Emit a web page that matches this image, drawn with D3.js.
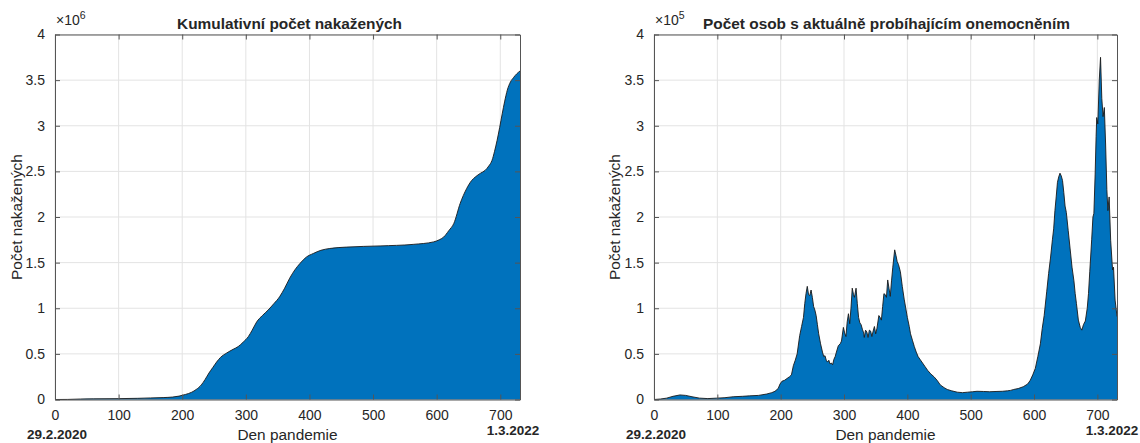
<!DOCTYPE html>
<html>
<head>
<meta charset="utf-8">
<script src="https://cdn.jsdelivr.net/npm/d3@7"></script>
<style>
  html, body { margin: 0; padding: 0; background: #fff; }
  svg { display: block; }
  text { font-family: "Liberation Sans", Arial, Helvetica, sans-serif; fill: #262626; }
</style>
</head>
<body>
<svg id="chart" width="1140" height="443"></svg>
<script>
// ---------------- DATA ----------------
// Left panel: cumulative infected (in units of 10^6)
const cumDays = [0, 20, 40, 60, 100, 130, 150, 170, 185, 195, 205, 215, 222, 230, 236, 242, 248, 254, 260, 270, 280, 288, 296, 304, 310, 317, 326, 335, 344, 353, 361, 369, 377, 385, 395, 406, 418, 432, 458, 511, 563, 595, 604, 611, 619, 627, 637, 647, 655, 661, 669, 676, 682, 687, 691, 695, 699, 703, 707, 711, 716, 721, 726, 731];
const cumValues = [0, 0.001, 0.005, 0.0075, 0.0095, 0.013, 0.017, 0.021, 0.027, 0.037, 0.055, 0.08, 0.11, 0.16, 0.22, 0.29, 0.35, 0.41, 0.46, 0.51, 0.55, 0.58, 0.63, 0.69, 0.76, 0.85, 0.92, 0.98, 1.05, 1.125, 1.22, 1.33, 1.42, 1.49, 1.56, 1.60, 1.635, 1.655, 1.67, 1.683, 1.70, 1.727, 1.75, 1.78, 1.85, 1.93, 2.15, 2.31, 2.40, 2.44, 2.48, 2.51, 2.56, 2.62, 2.72, 2.84, 2.98, 3.13, 3.27, 3.39, 3.48, 3.53, 3.57, 3.60];

// Right panel: currently active cases (in units of 10^5)
const actDays = [0, 10, 20, 30, 41, 50, 60, 72, 85, 99, 112, 125, 140, 151, 165, 178, 186, 191, 196, 199, 202, 206, 210, 214, 217, 220, 223, 226, 230, 233, 236, 238, 240, 242, 244, 246, 248, 250, 252, 254, 256, 258, 260, 263, 266, 268, 270, 272, 274, 276, 278, 280, 282, 284, 286, 288, 291, 294, 296, 299, 301, 303, 305, 307, 309, 311, 313, 315, 316.5, 319, 321, 323, 325, 327, 329, 331, 332, 334, 336, 338, 340, 342, 344, 346, 348, 350, 352, 355, 357, 359, 361, 363, 365, 367, 369, 371, 373, 375, 377, 380, 382, 384, 386, 389, 392, 395, 398, 400, 403, 405, 408, 411, 414, 417, 420, 424, 428, 432, 437, 442, 447, 452, 458, 463, 470, 479, 487, 495, 503, 510, 520, 530, 540, 550, 558, 563, 568, 575, 583, 590, 594, 598, 602, 606, 610, 613, 616, 620, 623, 626, 629, 631, 633, 635, 637, 639, 641, 643, 645, 647, 649, 651, 654, 657, 660, 663, 665, 667, 670, 673, 675.5, 678, 681, 684, 686, 688, 691, 693, 694.5, 696.5, 698, 699, 700.7, 703, 705, 707, 709, 711, 713, 715, 716.6, 718.6, 721, 724, 725.5, 728, 731];
const actValues = [0, 0.005, 0.015, 0.035, 0.05, 0.045, 0.03, 0.015, 0.01, 0.015, 0.02, 0.03, 0.035, 0.04, 0.045, 0.06, 0.075, 0.09, 0.12, 0.17, 0.20, 0.21, 0.23, 0.25, 0.27, 0.37, 0.43, 0.50, 0.70, 0.80, 0.90, 1.05, 1.16, 1.24, 1.15, 1.14, 1.20, 1.12, 1.02, 0.98, 0.92, 0.82, 0.72, 0.61, 0.52, 0.47, 0.48, 0.43, 0.41, 0.43, 0.39, 0.40, 0.38, 0.44, 0.47, 0.52, 0.59, 0.61, 0.64, 0.79, 0.73, 0.69, 0.85, 0.94, 0.83, 1.00, 1.22, 1.15, 1.12, 1.22, 1.05, 0.90, 0.84, 0.82, 0.77, 0.73, 0.68, 0.76, 0.74, 0.68, 0.76, 0.75, 0.69, 0.75, 0.80, 0.72, 0.78, 0.92, 0.90, 0.87, 1.02, 1.16, 1.15, 1.12, 1.31, 1.22, 1.13, 1.30, 1.45, 1.64, 1.58, 1.51, 1.48, 1.40, 1.24, 1.10, 0.98, 0.90, 0.80, 0.72, 0.65, 0.58, 0.52, 0.47, 0.44, 0.40, 0.36, 0.32, 0.28, 0.25, 0.21, 0.16, 0.13, 0.11, 0.095, 0.08, 0.075, 0.08, 0.085, 0.09, 0.088, 0.085, 0.088, 0.09, 0.095, 0.10, 0.11, 0.12, 0.14, 0.17, 0.21, 0.27, 0.34, 0.47, 0.61, 0.78, 0.92, 1.18, 1.38, 1.55, 1.75, 1.87, 2.07, 2.22, 2.38, 2.44, 2.48, 2.45, 2.40, 2.27, 2.12, 2.05, 1.85, 1.65, 1.45, 1.30, 1.16, 1.05, 0.87, 0.79, 0.76, 0.82, 0.86, 1.00, 1.16, 1.40, 1.75, 2.00, 2.04, 2.47, 2.88, 3.09, 3.02, 3.50, 3.75, 3.30, 3.10, 3.20, 2.80, 2.30, 2.07, 2.22, 1.745, 1.42, 1.45, 1.09, 0.91];

// Axes
const xTicks = [0, 100, 200, 300, 400, 500, 600, 700];
const yTicks = [0, 0.5, 1, 1.5, 2, 2.5, 3, 3.5, 4];
const yTickLabels = ["0", "0.5", "1", "1.5", "2", "2.5", "3", "3.5", "4"];
const dayDomain = [0, 731];
const yDomain = [0, 4];

const titles = ["Kumulativní počet nakažených", "Počet osob s aktuálně probíhajícím onemocněním"];
const exponents = ["6", "5"];
const xLabel = "Den pandemie";
const yLabel = "Počet nakažených";
const startDate = "29.2.2020";
const endDate = "1.3.2022";

// ---------------- DRAW ----------------
const svg = d3.select("#chart");
svg.append("rect").attr("width", 1140).attr("height", 443).attr("fill", "#fff");

function panel(opts) {
  const { left, right, top, bottom, days, values, curve, title, exp, ylabX, startX, startY, endX, endY } = opts;
  const x = d3.scaleLinear().domain(dayDomain).range([left, right]);
  const y = d3.scaleLinear().domain(yDomain).range([bottom, top]);
  const g = svg.append("g");

  // grid
  g.append("g").selectAll("line").data(xTicks).join("line")
    .attr("x1", d => x(d)).attr("x2", d => x(d)).attr("y1", top).attr("y2", bottom)
    .attr("stroke", "#e3e3e3").attr("stroke-width", 1);
  g.append("g").selectAll("line").data(yTicks).join("line")
    .attr("x1", left).attr("x2", right).attr("y1", d => y(d)).attr("y2", d => y(d))
    .attr("stroke", "#e3e3e3").attr("stroke-width", 1);

  // area
  const pts = days.map((d, i) => [d, values[i]]);
  const area = d3.area().x(d => x(d[0])).y0(y(0)).y1(d => y(d[1])).curve(curve);
  g.append("path").datum(pts).attr("d", area).attr("fill", "#0072BD").attr("stroke", "none");
  const line = d3.line().x(d => x(d[0])).y(d => y(d[1])).curve(curve);
  g.append("path").datum(pts).attr("d", line).attr("fill", "none")
    .attr("stroke", "#1a1a1a").attr("stroke-width", 0.9).attr("stroke-linejoin", "round");

  // axes with inward ticks
  const tl = 5;
  const axB = d3.axisBottom(x).tickValues(xTicks).tickSizeInner(-tl).tickSizeOuter(0).tickPadding(10.5).tickFormat(d3.format("d"));
  const axT = d3.axisTop(x).tickValues(xTicks).tickSizeInner(-tl).tickSizeOuter(0).tickFormat("");
  const axL = d3.axisLeft(y).tickValues(yTicks).tickSizeInner(-tl).tickSizeOuter(0).tickPadding(10)
    .tickFormat((d, i) => yTickLabels[i]);
  const axR = d3.axisRight(y).tickValues(yTicks).tickSizeInner(-tl).tickSizeOuter(0).tickFormat("");

  function style(sel) {
    sel.select(".domain").attr("stroke", "#555").attr("stroke-width", 1);
    sel.selectAll(".tick line").attr("stroke", "#555").attr("stroke-width", 1);
    sel.selectAll(".tick text").attr("font-size", 14).attr("fill", "#262626")
      .attr("font-family", '"Liberation Sans", Arial, Helvetica, sans-serif');
  }
  g.append("g").attr("transform", `translate(0,${bottom})`).call(axB).call(style);
  g.append("g").attr("transform", `translate(0,${top})`).call(axT).call(style);
  g.append("g").attr("transform", `translate(${left},0)`).call(axL).call(style);
  g.append("g").attr("transform", `translate(${right},0)`).call(axR).call(style);

  // title
  g.append("text").attr("x", (left + right) / 2 + opts.titleShift).attr("y", 29)
    .attr("text-anchor", "middle").attr("font-size", 15.4).attr("font-weight", "bold")
    .attr("fill", "#000").text(title);

  // exponent
  const ex = g.append("text").attr("x", left + 1).attr("y", 25).attr("font-size", 14).attr("fill", "#262626");
  ex.append("tspan").text("×10");
  ex.append("tspan").attr("dy", -6).attr("font-size", 10.5).text(exp);

  // x label
  g.append("text").attr("x", (left + right) / 2).attr("y", 439.5).attr("text-anchor", "middle")
    .attr("font-size", 15.4).text(xLabel);
  // y label
  g.append("text").attr("transform", `translate(${ylabX},${(top + bottom) / 2}) rotate(-90)`)
    .attr("text-anchor", "middle").attr("font-size", 15.4).text(yLabel);

  // dates
  g.append("text").attr("x", startX).attr("y", startY).attr("text-anchor", "middle")
    .attr("font-family", '"Liberation Serif", "Times New Roman", serif').attr("font-weight", "bold")
    .attr("font-size", 13.5).attr("fill", "#333").text(startDate);
  g.append("text").attr("x", endX).attr("y", endY).attr("text-anchor", "middle")
    .attr("font-family", '"Liberation Serif", "Times New Roman", serif').attr("font-weight", "bold")
    .attr("font-size", 13.5).attr("fill", "#333").text(endDate);
}

panel({ left: 55, right: 520, top: 34.5, bottom: 399.5, days: cumDays, values: cumValues,
  curve: d3.curveMonotoneX, title: titles[0], exp: exponents[0], ylabX: 22, titleShift: 2,
  startX: 57, startY: 438.5, endX: 513, endY: 435 });
panel({ left: 654, right: 1117, top: 34.5, bottom: 399.5, days: actDays, values: actValues,
  curve: d3.curveLinear, title: titles[1], exp: exponents[1], ylabX: 620, titleShift: 1,
  startX: 656, startY: 438.5, endX: 1112, endY: 435 });
</script>
</body>
</html>
